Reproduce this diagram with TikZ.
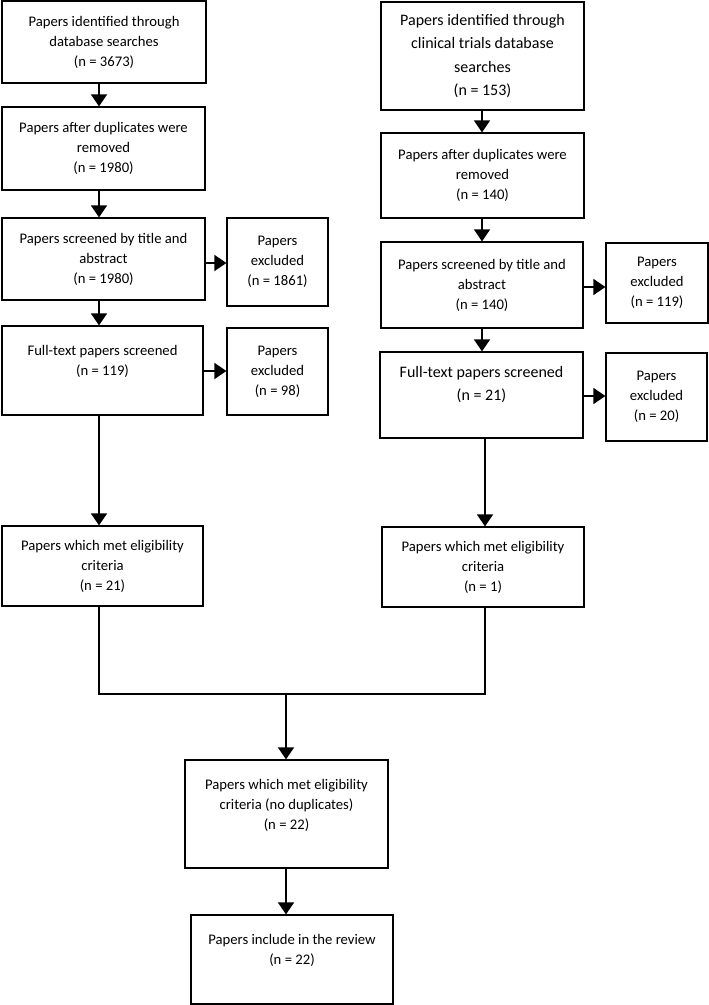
\documentclass[tikz,border=0pt]{standalone}
\usepackage{fontspec}
\setmainfont{Carlito}
\usepackage{tikz}
\usetikzlibrary{arrows.meta,positioning,calc}
\newcommand*{\px}{0.75pt}
\tikzset{%
  box/.style={draw, rectangle, line width=0.9pt, align=center, inner sep=0pt,
    font=\fontsize{11}{15}\selectfont},% normal box
  bigbox/.style={box, font=\fontsize{12}{17.5}\selectfont},% box with larger text
  sized/.style 2 args={minimum width=#1*\px, minimum height=#2*\px},
  arr/.style={line width=1.1pt, -{Triangle[width=12pt,length=9pt]}},% flow arrow
  link/.style={line width=1.1pt}% plain joining line
}

\begin{document}
\begin{tikzpicture}[x=\px, y=-\px]
\useasboundingbox (0,0) rectangle (709,1005);

% left column
\node[box, sized={204}{82}] (l1) at (104.0,  42.0) {Papers identified through\\database searches\\(n = 3673)};
\node[box, sized={203}{83}] (l2) at (103.5, 148.5) {Papers after duplicates were\\removed\\(n = 1980)};
\node[box, sized={203}{82}] (l3) at (103.5, 259.0) {Papers screened by title and\\abstract\\(n = 1980)};
\node[box, sized={101}{88}] (x1) at (277.5, 262.0) {Papers\\excluded\\(n = 1861)};
\node[box, sized={201}{89}] (l4) at (102.5, 370.5) {Full-text papers screened\\(n = 119)\\~};
\node[box, sized={101}{87}] (x2) at (277.5, 371.5) {Papers\\excluded\\(n = 98)};
\node[box, sized={201}{80}] (l5) at (102.5, 566.0) {Papers which met eligibility\\criteria\\(n = 21)};

% right column
\node[bigbox, sized={203}{108}] (r1) at (482.5,  56.0) {Papers identified through\\clinical trials database\\searches\\(n = 153)};
\node[box, sized={203}{85}] (r2) at (482.5, 175.5) {Papers after duplicates were\\removed\\(n = 140)};
\node[box, sized={202}{86}] (r3) at (482.0, 285.0) {Papers screened by title and\\abstract\\(n = 140)};
\node[box, sized={102}{80}] (x3) at (657.0, 283.0) {Papers\\excluded\\(n = 119)};
\node[bigbox, sized={203}{86}] (r4) at (481.5, 395.0) {Full-text papers screened\\(n = 21)\\~};
\node[box, sized={101}{88}] (x4) at (656.5, 397.0) {Papers\\excluded\\(n = 20)};
\node[box, sized={202}{80}] (r5) at (483.0, 567.0) {Papers which met eligibility\\criteria\\(n = 1)};

% merged part
\node[box, sized={203}{108}] (c1) at (286.5, 814.0) {Papers which met eligibility\\criteria (no duplicates)\\(n = 22)\\~};
\node[box, sized={202}{89}] (c2) at (292.0, 959.5) {Papers include in the review\\(n = 22)\\~};

\coordinate (lx) at (99,0);
\coordinate (rx) at (485,0);
\coordinate (merge) at (286,694);

\draw[arr] (l1.south -| lx) -- (l2.north -| lx);
\draw[arr] (l2.south -| lx) -- (l3.north -| lx);
\draw[arr] (l3.south -| lx) -- (l4.north -| lx);
\draw[arr] (l4.south -| lx) -- (l5.north -| lx);
\draw[arr] (l3.east |- 0,263) -- (x1.west |- 0,263);
\draw[arr] (l4.east |- 0,371) -- (x2.west |- 0,371);

\draw[arr] (r1.south -| 482,0) -- (r2.north -| 482,0);
\draw[arr] (r2.south -| 482,0) -- (r3.north -| 482,0);
\draw[arr] (r3.south -| 482,0) -- (r4.north -| 482,0);
\draw[arr] (r4.south -| rx) -- (r5.north -| rx);
\draw[arr] (r3.east |- 0,287) -- (x3.west |- 0,287);
\draw[arr] (r4.east |- 0,396) -- (x4.west |- 0,396);

\draw[link] (l5.south -| lx) |- (merge) -| (r5.south -| rx);
\draw[arr] (merge) -- (c1.north -| merge);
\draw[arr] (c1.south -| merge) -- (c2.north -| merge);
\end{tikzpicture}
\end{document}
